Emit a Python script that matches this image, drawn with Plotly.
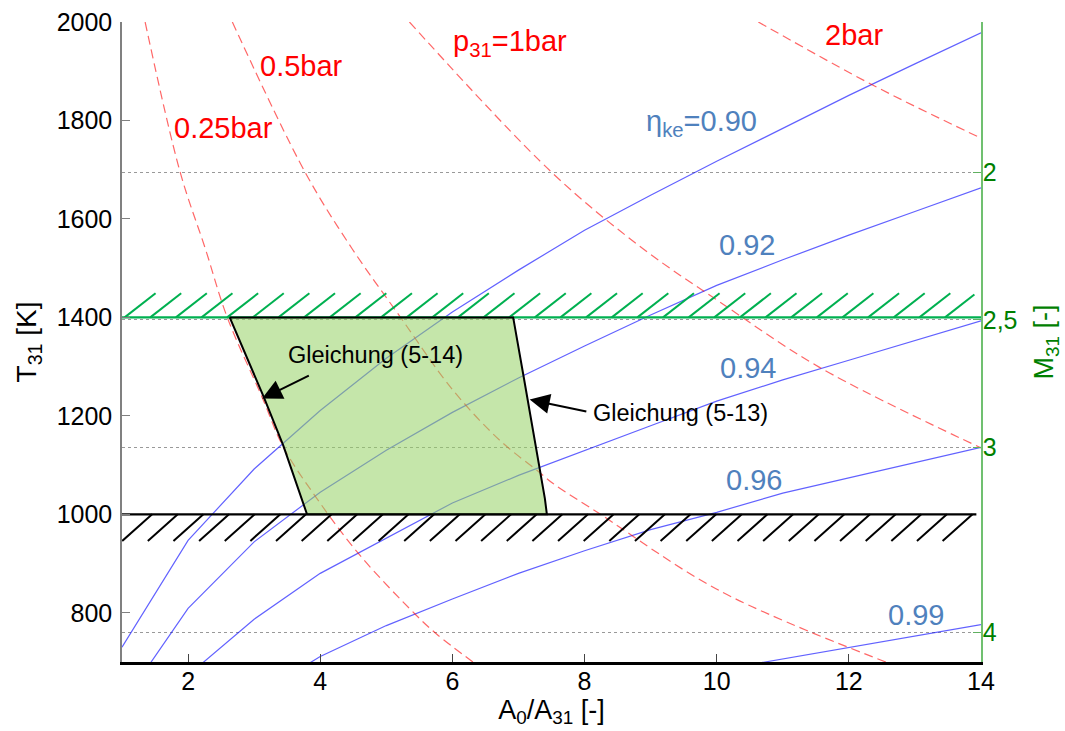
import numpy as np
import plotly.graph_objects as go

# ---------------- data ----------------
area_ratio = [1, 2, 3, 4, 5, 6, 7, 8, 9, 10, 11, 12, 13, 14]

eta_labels = ["η<sub>ke</sub>=0.90", "0.92", "0.94", "0.96", "0.99"]
eta_090 = [730, 947, 1092, 1211, 1317, 1411, 1496, 1577, 1648, 1717, 1784, 1851, 1915, 1978]
eta_092 = [614, 809, 944, 1045, 1130, 1207, 1277, 1342, 1405, 1465, 1517, 1567, 1615, 1663]
eta_094 = [None, 673, 787, 880, 952, 1023, 1079, 1130, 1180, 1230, 1273, 1313, 1353, 1393]
eta_096 = [None, None, 630, 711, 774, 828, 880, 926, 969, 1004, 1043, 1074, 1105, 1136]
eta_099 = [None, None, None, None, None, None, None, None, None, 683, 706, 730, 753, 776]

p_labels = ["0.25bar", "0.5bar", "p<sub>31</sub>=1bar", "2bar"]
p025_x = [1.35, 1.88, 2.26, 2.59, 3.12, 3.44, 3.95, 4.58, 5.43, 5.76, 6.31]
p025_y = [2000, 1695, 1540, 1401, 1238, 1137, 1032, 920, 798, 757, 700]
p05_x = [2.67, 3.77, 4.48, 5.21, 6.01, 6.72, 7.32, 7.52, 8.23, 10.04, 12.56]
p05_y = [2000, 1695, 1540, 1401, 1252, 1150, 1085, 1063, 1001, 845, 700]
p1_x = [5.35, 7.5, 8.88, 10.04, 11.55, 14.0]
p1_y = [2000, 1695, 1540, 1432, 1299, 1135]
p2_x = [10.63, 12.36, 14.0]
p2_y = [2000, 1872, 1764]

t_max_limit = 1400   # green hatched limit
t_min_limit = 1000   # black hatched limit

region_x = [2.63, 6.92, 7.07, 7.32, 7.40, 7.43, 3.80, 3.44, 3.14, 2.63]
region_y = [1400, 1400, 1286, 1096, 1032, 1000, 1000, 1140, 1240, 1400]

mach_ticks = ["2", "2,5", "3", "4"]
mach_T = [1695, 1395, 1136, 760]

left_ticks = [800, 1000, 1200, 1400, 1600, 1800, 2000]
x_ticks = [2, 4, 6, 8, 10, 12, 14]

# label anchor positions (data coords)
eta_label_pos = [(9.77, 1795), (10.46, 1547), (10.48, 1297), (10.56, 1069), (13.01, 795)]
p_label_pos = [(2.54, 1785), (3.72, 1911), (6.87, 1957), (12.08, 1974)]
gl14_text = (4.83, 1323); gl14_tip = (3.12, 1235); gl14_tail = (3.85, 1283)
gl13_text = (9.45, 1205); gl13_tip = (7.17, 1233); gl13_tail = (8.05, 1208)

# ---------------- style ----------------
FONT = "Liberation Sans, Arial, sans-serif"
BLUE = "rgba(0,0,255,0.62)"
RED = "rgba(255,0,0,0.6)"
HATCH_GREEN = "#00B050"
LABEL_BLUE = "#4F81BD"
AX_GREEN = "#008000"

fig = go.Figure()

for ys in [eta_090, eta_092, eta_094, eta_096, eta_099]:
    fig.add_trace(go.Scatter(x=area_ratio, y=ys, mode="lines",
                             line=dict(color=BLUE, width=1.2),
                             showlegend=False, hoverinfo="skip"))

for xs, ys in [(p025_x, p025_y), (p05_x, p05_y), (p1_x, p1_y), (p2_x, p2_y)]:
    fig.add_trace(go.Scatter(x=xs, y=ys, mode="lines", line_shape="spline",
                             line=dict(color=RED, width=1.2, dash="9px,5px"),
                             showlegend=False, hoverinfo="skip"))

# hatch strokes (decoration derived from the limit levels)
step = 0.388
gx, gy = [], []
for x0 in np.arange(1.04, 13.5, step):
    x1 = min(x0 + 0.468, 13.9)
    frac = (x1 - x0) / 0.468
    gx += [x0, x1, None]
    gy += [t_max_limit, t_max_limit + 49 * frac, None]
fig.add_trace(go.Scatter(x=gx, y=gy, mode="lines", line=dict(color=HATCH_GREEN, width=2),
                         showlegend=False, hoverinfo="skip"))
fig.add_trace(go.Scatter(x=[1, 14], y=[t_max_limit, t_max_limit], mode="lines",
                         line=dict(color=HATCH_GREEN, width=2.2),
                         showlegend=False, hoverinfo="skip"))

bx, by = [], []
for xt in np.arange(1.456, 13.95, step):
    bx += [xt - 0.453, xt, None]
    by += [t_min_limit - 54, t_min_limit, None]
fig.add_trace(go.Scatter(x=bx, y=by, mode="lines", line=dict(color="black", width=2),
                         showlegend=False, hoverinfo="skip"))
fig.add_trace(go.Scatter(x=[1, 13.93], y=[t_min_limit, t_min_limit], mode="lines",
                         line=dict(color="black", width=2.2),
                         showlegend=False, hoverinfo="skip"))

# feasible region
fig.add_trace(go.Scatter(x=region_x, y=region_y, mode="lines", fill="toself",
                         fillcolor="rgba(150,210,100,0.55)",
                         line=dict(color="black", width=2),
                         showlegend=False, hoverinfo="skip"))

# dummy trace for the right axis
fig.add_trace(go.Scatter(x=[None], y=[None], yaxis="y2", showlegend=False, hoverinfo="skip"))

ann = []
for (x, y), t in zip(p_label_pos, p_labels):
    ann.append(dict(x=x, y=y, text=t, showarrow=False,
                    font=dict(family=FONT, size=29, color="#FF0000")))
for (x, y), t in zip(eta_label_pos, eta_labels):
    ann.append(dict(x=x, y=y, text=t, showarrow=False,
                    font=dict(family=FONT, size=29, color=LABEL_BLUE)))
for pos, txt in [(gl14_text, "Gleichung (5-14)"), (gl13_text, "Gleichung (5-13)")]:
    ann.append(dict(x=pos[0], y=pos[1], text=txt, showarrow=False,
                    font=dict(family=FONT, size=23.5, color="black")))
for tip, tail in [(gl14_tip, gl14_tail), (gl13_tip, gl13_tail)]:
    ann.append(dict(x=tip[0], y=tip[1], ax=tail[0], ay=tail[1], axref="x", ayref="y",
                    text="", showarrow=True, arrowhead=2, arrowsize=2, arrowwidth=2,
                    arrowcolor="black"))

fig.update_layout(
    width=1065, height=731,
    margin=dict(l=122, r=84, t=22, b=69, autoexpand=False),
    paper_bgcolor="white", plot_bgcolor="white",
    font=dict(family=FONT, size=25, color="black"),
    showlegend=False,
    annotations=ann,
    xaxis=dict(range=[1, 14], tickvals=x_ticks, ticks="inside", ticklen=8,
               tickcolor="#444", showline=True, linecolor="black", linewidth=2.5,
               showgrid=False, zeroline=False, ticklabelstandoff=-5, automargin=False,
               tickfont=dict(size=25, family=FONT),
               title=dict(text="A<sub>0</sub>/A<sub>31</sub> [-]", standoff=4,
                          font=dict(size=27, family=FONT))),
    yaxis=dict(range=[700, 2000], tickvals=left_ticks, ticks="inside", ticklen=8,
               tickcolor="#808080", showline=True, linecolor="#808080", linewidth=1.5,
               showgrid=False, zeroline=False, ticklabelstandoff=3, automargin=False,
               tickfont=dict(size=25, family=FONT),
               title=dict(text="T<sub>31</sub> [K]", standoff=12,
                          font=dict(size=28, family=FONT))),
    yaxis2=dict(range=[700, 2000], overlaying="y", side="right",
                tickvals=mach_T, ticktext=mach_ticks, ticks="inside", ticklen=8,
                tickcolor="#60B060", showline=True, linecolor="#70C070", linewidth=1.5,
                showgrid=True, gridcolor="#999999", griddash="dot", gridwidth=1,
                zeroline=False, ticklabelstandoff=-5, automargin=False,
                tickfont=dict(size=25, family=FONT, color=AX_GREEN),
                title=dict(text="M<sub>31</sub> [-]", standoff=18,
                           font=dict(size=27, family=FONT, color=AX_GREEN))),
)

fig.write_html("out.html")
